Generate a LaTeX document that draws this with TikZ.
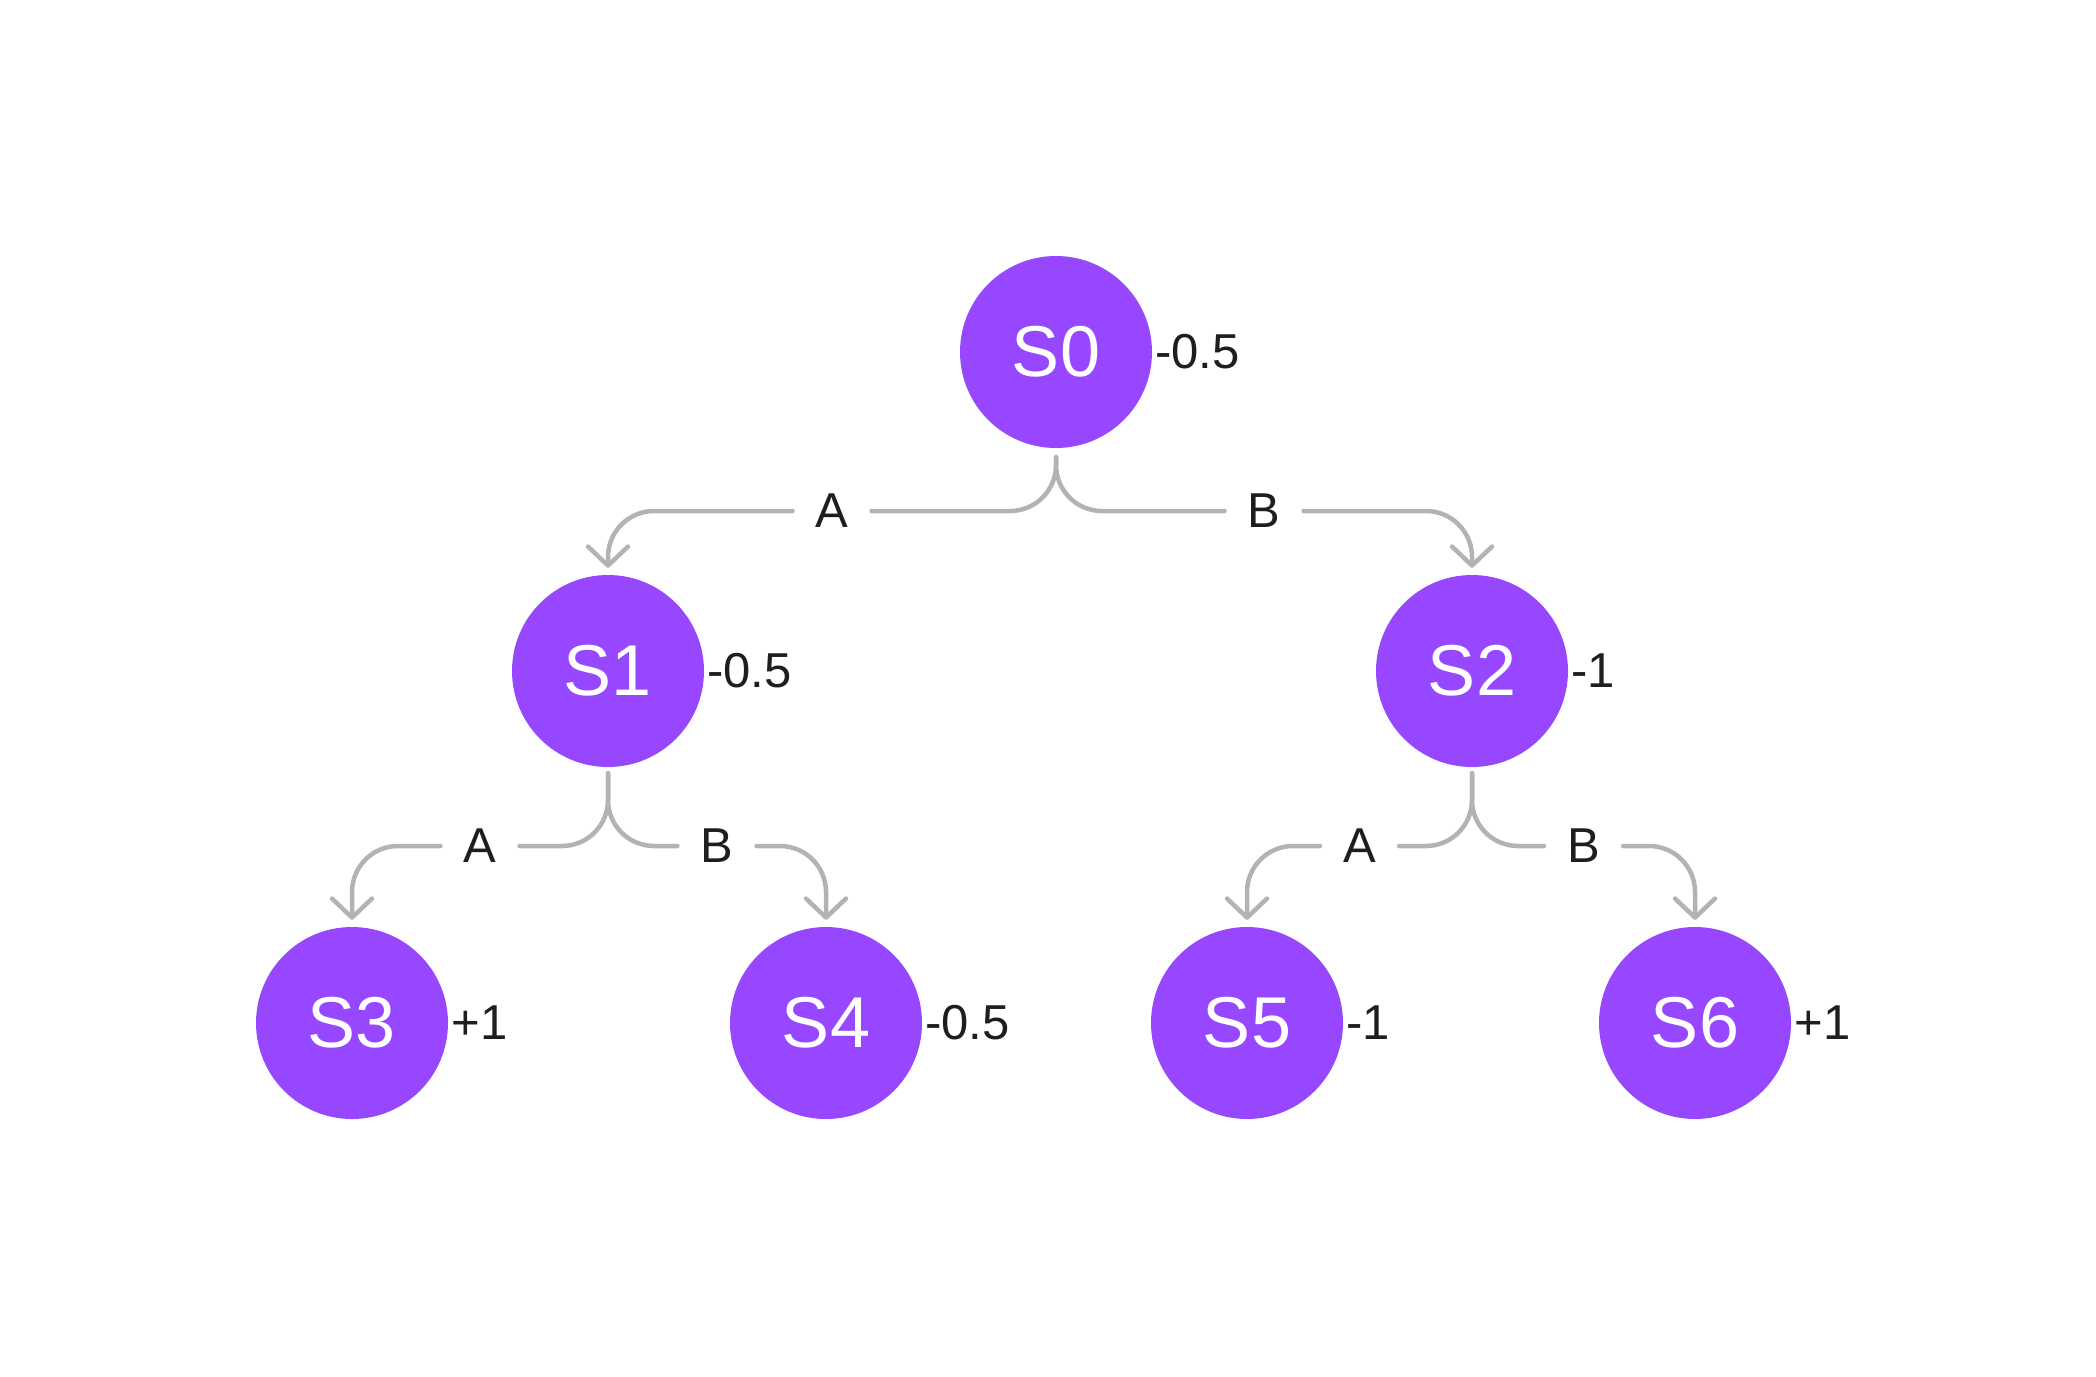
\documentclass[tikz,border=0pt]{standalone}
\usepackage{fontspec}
\setmainfont{Liberation Sans}
\usetikzlibrary{arrows.meta,calc}
\definecolor{nodepurple}{HTML}{9747FF}
\definecolor{edgegray}{HTML}{B3B3B3}
\definecolor{textdark}{HTML}{1E1E1E}
\begin{document}
\begin{tikzpicture}[x=1pt,y=-1pt,
 state/.style={circle, fill=nodepurple, minimum size=192pt, inner sep=0pt, text=white, font=\fontsize{72}{86}\selectfont},
 val/.style={anchor=west, inner sep=3pt, text=textdark, font=\fontsize{49}{58}\selectfont},
 wire/.style={draw=edgegray, line width=4.5pt, line cap=round, rounded corners=46pt},
 edge/.style={wire, -{Straight Barb[length=19pt,width=40pt,round]}},
 lbl/.style={text=textdark, inner xsep=23pt, inner ysep=0pt, font=\fontsize{49}{58}\selectfont}]
\fill[white] (0,0) rectangle (2096,1376);
\useasboundingbox (0,0) rectangle (2096,1376);
\coordinate (h0) at (0,511);
\coordinate (h1) at (0,846);
\node[state] (S0) at (1056,352) {S0};
\node[state] (S1) at (608,671) {S1};
\node[state] (S2) at (1472,671) {S2};
\node[state] (S3) at (352,1023) {S3};
\node[state] (S4) at (826,1023) {S4};
\node[state] (S5) at (1247,1023) {S5};
\node[state] (S6) at (1695,1023) {S6};
\node[val] (v0) at (S0.east) {-0.5};
\node[val] (v1) at (S1.east) {-0.5};
\node[val] (v2) at (S2.east) {-1};
\node[val] (v3) at (S3.east) {+1};
\node[val] (v4) at (S4.east) {-0.5};
\node[val] (v5) at (S5.east) {-1};
\node[val] (v6) at (S6.east) {+1};
\node[lbl] (lA0) at ($(S0 |- h0)!0.5!(S1 |- h0)$) {A};
\node[lbl] (lB0) at ($(S0 |- h0)!0.5!(S2 |- h0)$) {B};
\node[lbl] (lA1) at ($(S1 |- h1)!0.5!(S3 |- h1)$) {A};
\node[lbl] (lB1) at ($(S1 |- h1)!0.5!(S4 |- h1)$) {B};
\node[lbl] (lA2) at ($(S2 |- h1)!0.5!(S5 |- h1)$) {A};
\node[lbl] (lB2) at ($(S2 |- h1)!0.5!(S6 |- h1)$) {B};
\draw[wire] ([yshift=-9pt]S0.south) |- (lA0.east);
\draw[edge] (lA0.west) -| ([yshift=7pt]S1.north);
\draw[wire] ([yshift=-9pt]S0.south) |- (lB0.west);
\draw[edge] (lB0.east) -| ([yshift=7pt]S2.north);
\draw[wire] ([yshift=-6pt]S1.south) |- (lA1.east);
\draw[edge] (lA1.west) -| ([yshift=7pt]S3.north);
\draw[wire] ([yshift=-6pt]S1.south) |- (lB1.west);
\draw[edge] (lB1.east) -| ([yshift=7pt]S4.north);
\draw[wire] ([yshift=-6pt]S2.south) |- (lA2.east);
\draw[edge] (lA2.west) -| ([yshift=7pt]S5.north);
\draw[wire] ([yshift=-6pt]S2.south) |- (lB2.west);
\draw[edge] (lB2.east) -| ([yshift=7pt]S6.north);
\end{tikzpicture}
\end{document}
